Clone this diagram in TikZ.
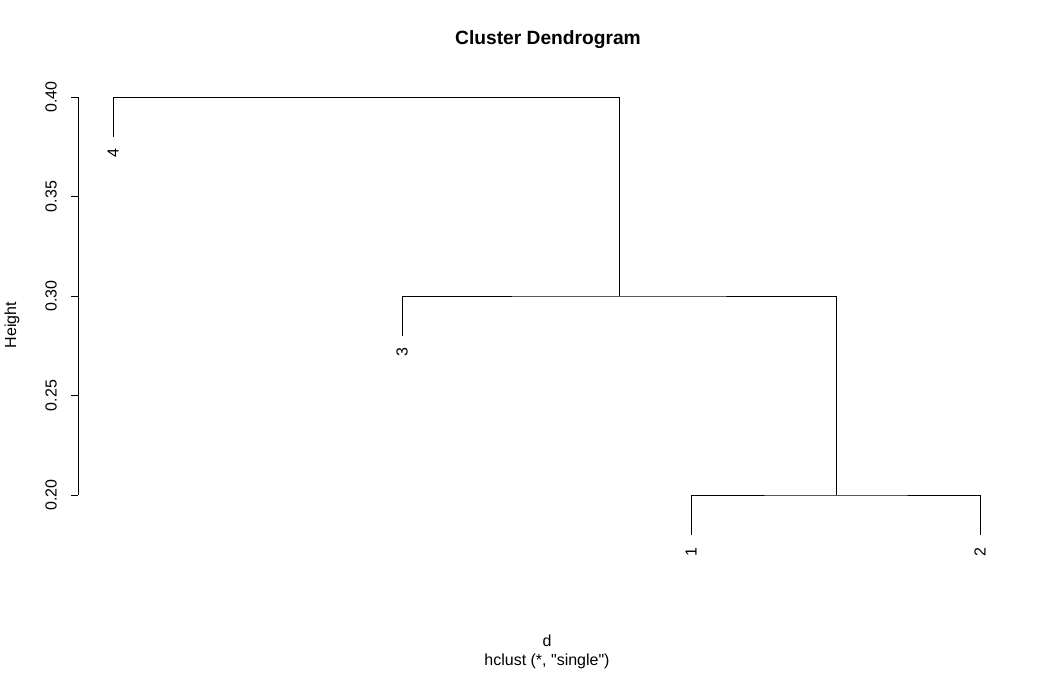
\documentclass[tikz,border=0pt]{standalone}
\usepackage{fontspec}
\setmainfont{Liberation Sans}
% a second face without TeX ligature mapping, so that " stays straight
\newfontfamily\plainsans{Liberation Sans}
\begin{document}
\begin{tikzpicture}[x=1pt,y=-1pt,
  lbl/.style={font=\fontsize{16}{18}\selectfont, inner sep=0pt},
  leaflbl/.style={lbl, rotate=90, anchor=east},
  ticklbl/.style={lbl, rotate=90, anchor=south},
  link/.style={draw=black, line width=0.9pt}]
\useasboundingbox (0,0) rectangle (1056,672);
% title and axis captions
\node[font=\bfseries\fontsize{19.2}{22}\selectfont, inner sep=0pt] (title) at (548,40) {Cluster Dendrogram};
\node[lbl] (xlab) at (547,641) {d};
\node[lbl, font=\plainsans\fontsize{16}{18}\selectfont] (sub) at (547,661) {hclust (*, "single")};
\node[lbl, rotate=90] (ylab) at (12,325) {Height};
% height axis
\coordinate (ytop) at (78,97);
\coordinate (ybot) at (78,495);
\draw[link] (ytop) -- (ybot);
\foreach \v/\y in {0.40/97, 0.35/196.5, 0.30/296, 0.25/395.5, 0.20/495} {
  \draw[link] (71,\y) -- (78,\y);
  \node[ticklbl] at (57,\y) {\v};
}
% leaves
\coordinate (l4) at (113,137);
\coordinate (l3) at (402,336);
\coordinate (l1) at (691,535);
\coordinate (l2) at (980,535);
% merges
\coordinate (m12) at (836,495);
\coordinate (m123) at (619,296);
\coordinate (root) at (619,97);
\draw[link] (l1) |- (m12) -| (l2);
\draw[link] (l3) |- (m123) -| (m12);
\draw[link] (l4) |- (root) -- (m123);
% leaf labels
\node[leaflbl] (n4) at (113,148) {4};
\node[leaflbl] (n3) at (402,347) {3};
\node[leaflbl] (n1) at (691,547) {1};
\node[leaflbl] (n2) at (980,547) {2};
\end{tikzpicture}
\end{document}
